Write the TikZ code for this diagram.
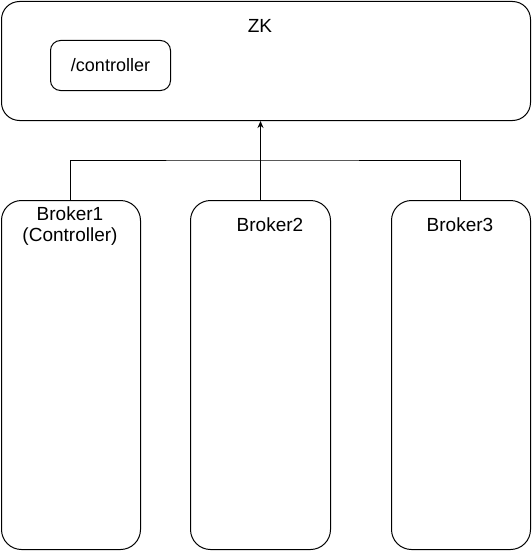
\documentclass[tikz,border=0pt]{standalone}
\usepackage{fontspec}
\setmainfont{Liberation Sans}
\usetikzlibrary{arrows.meta}
\begin{document}
\begin{tikzpicture}[x=1pt,y=-1pt,
  box/.style={draw, line width=1pt, rounded corners=#1},
  lbl/.style={font=\fontsize{19}{22}\selectfont, inner sep=0pt},
  conn/.style={draw, line width=1pt}]
\useasboundingbox (0,0) rectangle (531,551);
\node[box=18pt, minimum width=529pt, minimum height=119pt, anchor=north west] (zk) at (1,1) {};
\node[lbl] (zkl) at (260,25.5) {ZK};
\node[box=10pt, minimum width=120pt, minimum height=50pt, anchor=north west, lbl, font=\fontsize{18}{21}\selectfont] (ctl) at (50,40) {/controller};
\node[box=20pt, minimum width=139pt, minimum height=349pt, anchor=north west] (b1) at (1,200) {};
\node[box=20pt, minimum width=140pt, minimum height=349pt, anchor=north west] (b2) at (190,200) {};
\node[box=20pt, minimum width=139pt, minimum height=349pt, anchor=north west] (b3) at (391,200) {};
\node[lbl] (b1l1) at (70,213.5) {Broker1};
\node[lbl] (b1l2) at (70,237) {(Controller)};
\node[lbl] (b2l) at (270,225) {Broker2};
\node[lbl] (b3l) at (460,225) {Broker3};
\coordinate (j) at (260,160);
\draw[conn] (b1.north -| 70,0) |- (j) -| (b3.north -| 460,0);
\draw[conn, -{Stealth[length=7pt,width=6pt]}] (b2.north) -- (b2.north |- zk.south);
\end{tikzpicture}
\end{document}
